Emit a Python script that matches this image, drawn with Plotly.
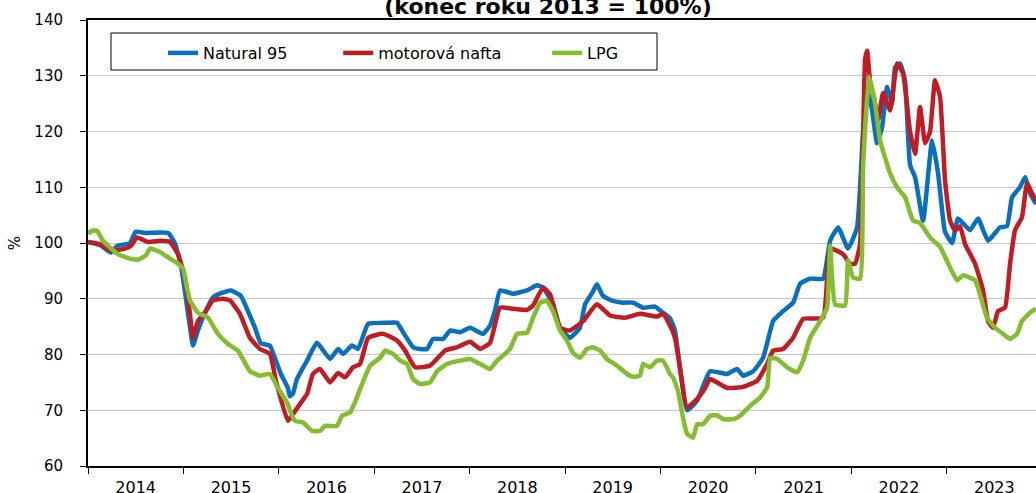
import datetime as dt
import plotly.graph_objects as go

# ---- data (time as fractional years, values in % of end-2013 level) ----
natural_t = [2014.00, 2014.13, 2014.24, 2014.31, 2014.44, 2014.50, 2014.60, 2014.84, 2014.91, 2014.975,
             2015.027, 2015.069, 2015.101, 2015.153, 2015.205, 2015.310, 2015.394, 2015.499, 2015.604,
             2015.677, 2015.751, 2015.813, 2015.908, 2015.960, 2016.023, 2016.096, 2016.117, 2016.149,
             2016.191, 2016.296, 2016.400, 2016.537, 2016.621, 2016.673, 2016.767, 2016.830, 2016.935,
             2017.134, 2017.239, 2017.302, 2017.407, 2017.480, 2017.553, 2017.616, 2017.721, 2017.795,
             2017.899, 2018.004, 2018.140, 2018.214, 2018.266, 2018.319, 2018.455, 2018.602, 2018.706,
             2018.769, 2018.874, 2018.948, 2019.052, 2019.157, 2019.210, 2019.283, 2019.335, 2019.398,
             2019.503, 2019.608, 2019.713, 2019.818, 2019.943, 2020.027, 2020.101, 2020.153, 2020.205,
             2020.279, 2020.384, 2020.520, 2020.698, 2020.803, 2020.866, 2020.971, 2021.075, 2021.180,
             2021.285, 2021.390, 2021.463, 2021.568, 2021.704, 2021.778, 2021.862, 2021.966, 2022.061,
             2022.124, 2022.176, 2022.218, 2022.270, 2022.323, 2022.375, 2022.428, 2022.459, 2022.512,
             2022.564, 2022.616, 2022.669, 2022.753, 2022.847, 2022.910, 2022.983, 2023.057, 2023.119,
             2023.245, 2023.329, 2023.434, 2023.560, 2023.633, 2023.686, 2023.769, 2023.822, 2023.874,
             2023.937]
natural_v = [100.2, 99.6, 98.3, 99.5, 100.0, 102.0, 101.8, 101.8, 100.0, 96.0,
             90.0, 85.0, 81.6, 84.3, 86.6, 90.2, 91.0, 91.5, 90.5,
             87.8, 84.8, 82.0, 81.6, 79.4, 76.5, 74.0, 72.5, 73.0,
             75.6, 78.9, 82.1, 79.2, 81.0, 80.1, 81.6, 81.0, 85.5,
             85.7, 85.7, 84.0, 81.3, 81.0, 81.0, 82.8, 82.8, 84.3,
             84.0, 84.8, 83.7, 85.2, 87.9, 91.5, 90.9, 91.5, 92.4,
             92.0, 89.0, 84.8, 83.0, 84.8, 89.0, 91.0, 92.6, 90.5,
             89.6, 89.3, 89.3, 88.4, 88.6, 87.5, 86.5, 84.3, 77.6,
             70.0, 71.7, 77.0, 76.5, 77.4, 76.2, 77.0, 79.4, 86.0,
             87.8, 89.3, 92.7, 93.6, 93.6, 100.4, 102.8, 99.0, 102.8,
             120.0, 127.0, 123.8, 117.9, 120.8, 128.0, 125.0, 131.5, 132.2,
             129.0, 114.0, 111.8, 104.0, 118.4, 112.5, 102.0, 100.0, 104.4,
             102.3, 104.4, 100.4, 102.8, 103.0, 108.2, 110.0, 111.8, 108.9,
             107.0]

nafta_t = [2014.000, 2014.126, 2014.241, 2014.388, 2014.451, 2014.514, 2014.629, 2014.755, 2014.860,
           2014.943, 2015.017, 2015.069, 2015.101, 2015.153, 2015.226, 2015.310, 2015.415, 2015.488,
           2015.593, 2015.698, 2015.803, 2015.908, 2015.971, 2016.096, 2016.149, 2016.222, 2016.296,
           2016.358, 2016.432, 2016.537, 2016.621, 2016.694, 2016.778, 2016.851, 2016.935, 2017.092,
           2017.239, 2017.323, 2017.428, 2017.585, 2017.742, 2017.868, 2018.004, 2018.109, 2018.214,
           2018.319, 2018.455, 2018.602, 2018.665, 2018.769, 2018.843, 2018.948, 2019.052, 2019.189,
           2019.335, 2019.472, 2019.629, 2019.786, 2019.964, 2020.027, 2020.101, 2020.153, 2020.205,
           2020.279, 2020.384, 2020.468, 2020.520, 2020.698, 2020.866, 2021.013, 2021.117, 2021.180,
           2021.285, 2021.390, 2021.495, 2021.704, 2021.778, 2021.914, 2021.987, 2022.040, 2022.092,
           2022.145, 2022.166, 2022.197, 2022.239, 2022.281, 2022.333, 2022.407, 2022.480, 2022.543,
           2022.616, 2022.669, 2022.721, 2022.774, 2022.826, 2022.878, 2022.931, 2022.983, 2023.036,
           2023.088, 2023.140, 2023.193, 2023.298, 2023.382, 2023.434, 2023.486, 2023.539, 2023.612,
           2023.665, 2023.717, 2023.790, 2023.843, 2023.895, 2023.937]
nafta_v = [100.2, 99.8, 98.6, 99.0, 99.5, 101.0, 100.2, 100.4, 100.2,
           98.0, 93.8, 87.3, 83.0, 86.0, 87.5, 89.7, 90.0, 89.7,
           87.3, 83.0, 81.0, 80.1, 75.3, 68.1, 69.3, 71.1, 72.9,
           76.5, 77.4, 75.0, 76.7, 75.9, 77.7, 78.3, 83.0, 83.7,
           82.5, 80.7, 77.7, 78.0, 80.7, 81.3, 82.3, 81.0, 82.1,
           88.4, 88.2, 88.0, 88.8, 92.0, 90.8, 84.8, 84.3, 86.0,
           89.0, 87.0, 86.6, 87.3, 86.8, 87.3, 85.2, 83.0, 77.7,
           70.5, 72.0, 74.0, 75.6, 74.0, 74.2, 75.3, 78.3, 80.7,
           81.0, 83.0, 86.4, 86.6, 99.0, 98.0, 96.3, 96.3, 99.8,
           133.0, 134.5, 129.0, 126.0, 122.0, 126.9, 123.8, 132.2, 130.4,
           120.0, 116.0, 124.4, 117.9, 120.0, 129.2, 126.2, 111.2, 104.0,
           102.2, 103.0, 99.8, 96.3, 91.5, 86.0, 84.8, 87.8, 88.4,
           96.3, 102.3, 104.6, 110.7, 108.9, 107.6]

lpg_t = [2014.000, 2014.042, 2014.094, 2014.157, 2014.231, 2014.314, 2014.440, 2014.524, 2014.608,
         2014.650, 2014.755, 2014.860, 2014.943, 2014.996, 2015.038, 2015.069, 2015.153, 2015.258,
         2015.363, 2015.468, 2015.572, 2015.698, 2015.803, 2015.908, 2015.992, 2016.096, 2016.117,
         2016.170, 2016.254, 2016.348, 2016.432, 2016.484, 2016.610, 2016.662, 2016.746, 2016.799,
         2016.872, 2016.956, 2017.061, 2017.113, 2017.197, 2017.270, 2017.344, 2017.407, 2017.480,
         2017.585, 2017.658, 2017.763, 2017.899, 2018.004, 2018.109, 2018.214, 2018.287, 2018.350,
         2018.423, 2018.497, 2018.602, 2018.665, 2018.738, 2018.811, 2018.874, 2018.948, 2019.021,
         2019.084, 2019.157, 2019.231, 2019.294, 2019.367, 2019.440, 2019.545, 2019.650, 2019.713,
         2019.786, 2019.818, 2019.891, 2019.964, 2020.027, 2020.101, 2020.132, 2020.184, 2020.237,
         2020.279, 2020.342, 2020.384, 2020.447, 2020.520, 2020.593, 2020.656, 2020.761, 2020.834,
         2020.939, 2021.044, 2021.117, 2021.149, 2021.222, 2021.327, 2021.432, 2021.495, 2021.568,
         2021.673, 2021.746, 2021.778, 2021.830, 2021.935, 2021.966, 2022.019, 2022.092, 2022.124,
         2022.187, 2022.249, 2022.302, 2022.407, 2022.480, 2022.564, 2022.648, 2022.721, 2022.826,
         2022.931, 2023.036, 2023.109, 2023.172, 2023.298, 2023.350, 2023.423, 2023.507, 2023.591,
         2023.665, 2023.738, 2023.790, 2023.874, 2023.937]
lpg_v = [101.7, 102.2, 102.2, 100.4, 99.2, 98.0, 97.2, 97.0, 97.8,
         99.0, 98.4, 97.2, 96.3, 95.4, 92.0, 89.7, 87.5, 86.6,
         83.7, 81.9, 80.7, 77.0, 76.2, 76.5, 74.0, 71.1, 70.0,
         68.1, 67.8, 66.3, 66.3, 67.2, 67.2, 69.0, 69.6, 71.5,
         74.7, 78.0, 79.4, 80.7, 80.1, 78.9, 78.3, 75.6, 74.7,
         75.0, 77.0, 78.3, 78.9, 79.2, 78.3, 77.4, 78.9, 79.8,
         81.0, 83.7, 83.9, 86.6, 89.3, 89.6, 87.8, 84.3, 82.5,
         80.3, 79.4, 81.0, 81.3, 80.7, 79.2, 78.0, 76.5, 76.0,
         76.2, 78.3, 77.7, 78.9, 78.9, 76.5, 75.9, 73.5, 68.7,
         65.8, 65.1, 67.5, 67.5, 69.0, 69.1, 68.4, 68.4, 69.0,
         70.8, 72.3, 74.1, 79.4, 79.2, 77.7, 76.8, 78.9, 83.0,
         86.0, 88.4, 99.5, 89.0, 88.8, 96.9, 93.8, 93.6, 114.0,
         129.8, 125.0, 118.4, 112.5, 110.0, 108.2, 104.0, 103.6, 101.0,
         99.3, 95.6, 93.3, 94.2, 93.3, 90.8, 86.6, 84.8, 83.7,
         82.8, 83.7, 86.0, 87.5, 88.2]

series_names = ["Natural 95", "motorová nafta", "LPG"]
series_colors = ["#0A70BE", "#C11B24", "#84BD2F"]
y_ticks = [60, 70, 80, 90, 100, 110, 120, 130, 140]
x_start, x_end = 2014.0, 2023.937


def to_date(t):
    y = int(t)
    a = dt.datetime(y, 1, 1)
    b = dt.datetime(y + 1, 1, 1)
    return a + (b - a) * (t - y)


FONT = "DejaVu Sans"
W, H = 1036, 493
fig = go.Figure()
for name, ts, vs, col, extra in [
    (series_names[0], natural_t, natural_v, series_colors[0], "\u00a0" * 9),
    (series_names[1], nafta_t, nafta_v, series_colors[1], "\u00a0" * 8),
    (series_names[2], lpg_t, lpg_v, series_colors[2], ""),
]:
    fig.add_trace(go.Scatter(
        x=[to_date(t) for t in ts], y=vs, mode="lines", name=name + extra,
        line=dict(color=col, width=4.5, shape="spline", smoothing=0.4),
    ))

fig.update_layout(
    width=W, height=H,
    margin=dict(l=88, r=0, t=20, b=27, autoexpand=False),
    paper_bgcolor="white", plot_bgcolor="white",
    font=dict(family=FONT, size=16, color="black"),
    title=dict(text="<b>(konec roku 2013 = 100%)</b>", x=548 / W, xanchor="center",
               xref="container", yref="container", y=1 - 14 / H, yanchor="bottom",
               font=dict(family=FONT, size=22, color="black")),
    showlegend=True,
    legend=dict(orientation="h", x=(163 - 88) / 948, y=(466 - 36) / 446,
                xanchor="left", yanchor="top", bgcolor="rgba(0,0,0,0)",
                font=dict(family=FONT, size=16, color="black"), borderwidth=0),
    shapes=[dict(type="rect", xref="paper", yref="paper",
                 x0=(111 - 88) / 948, x1=(657 - 88) / 948,
                 y0=(466 - 70) / 446, y1=(466 - 33) / 446,
                 line=dict(color="black", width=1), fillcolor="rgba(0,0,0,0)", layer="above")],
)
fig.update_xaxes(
    type="date", range=[to_date(x_start), to_date(x_end)], automargin=False,
    tick0="2014-01-01", dtick="M12", tickformat="%Y", ticklabelmode="period",
    ticks="outside", ticklen=6, tickwidth=1, tickcolor="black",
    showline=True, linecolor="black", linewidth=2, mirror=True,
    showgrid=False, zeroline=False, tickfont=dict(size=16),
)
fig.update_yaxes(
    range=[60, 140], tickvals=y_ticks, automargin=False,
    ticks="outside", ticklen=6, tickwidth=1, tickcolor="black",
    showline=True, linecolor="black", linewidth=2, mirror=False,
    showgrid=True, gridcolor="#C6C6C6", gridwidth=1, zeroline=False,
    tickfont=dict(size=15), ticklabelstandoff=14,
    title=dict(text="%", standoff=10, font=dict(size=15)),
)
fig.write_html(
    "out.html",
    config={"displayModeBar": False},
    post_script="document.body.style.margin='0';document.body.style.overflow='hidden';",
)
